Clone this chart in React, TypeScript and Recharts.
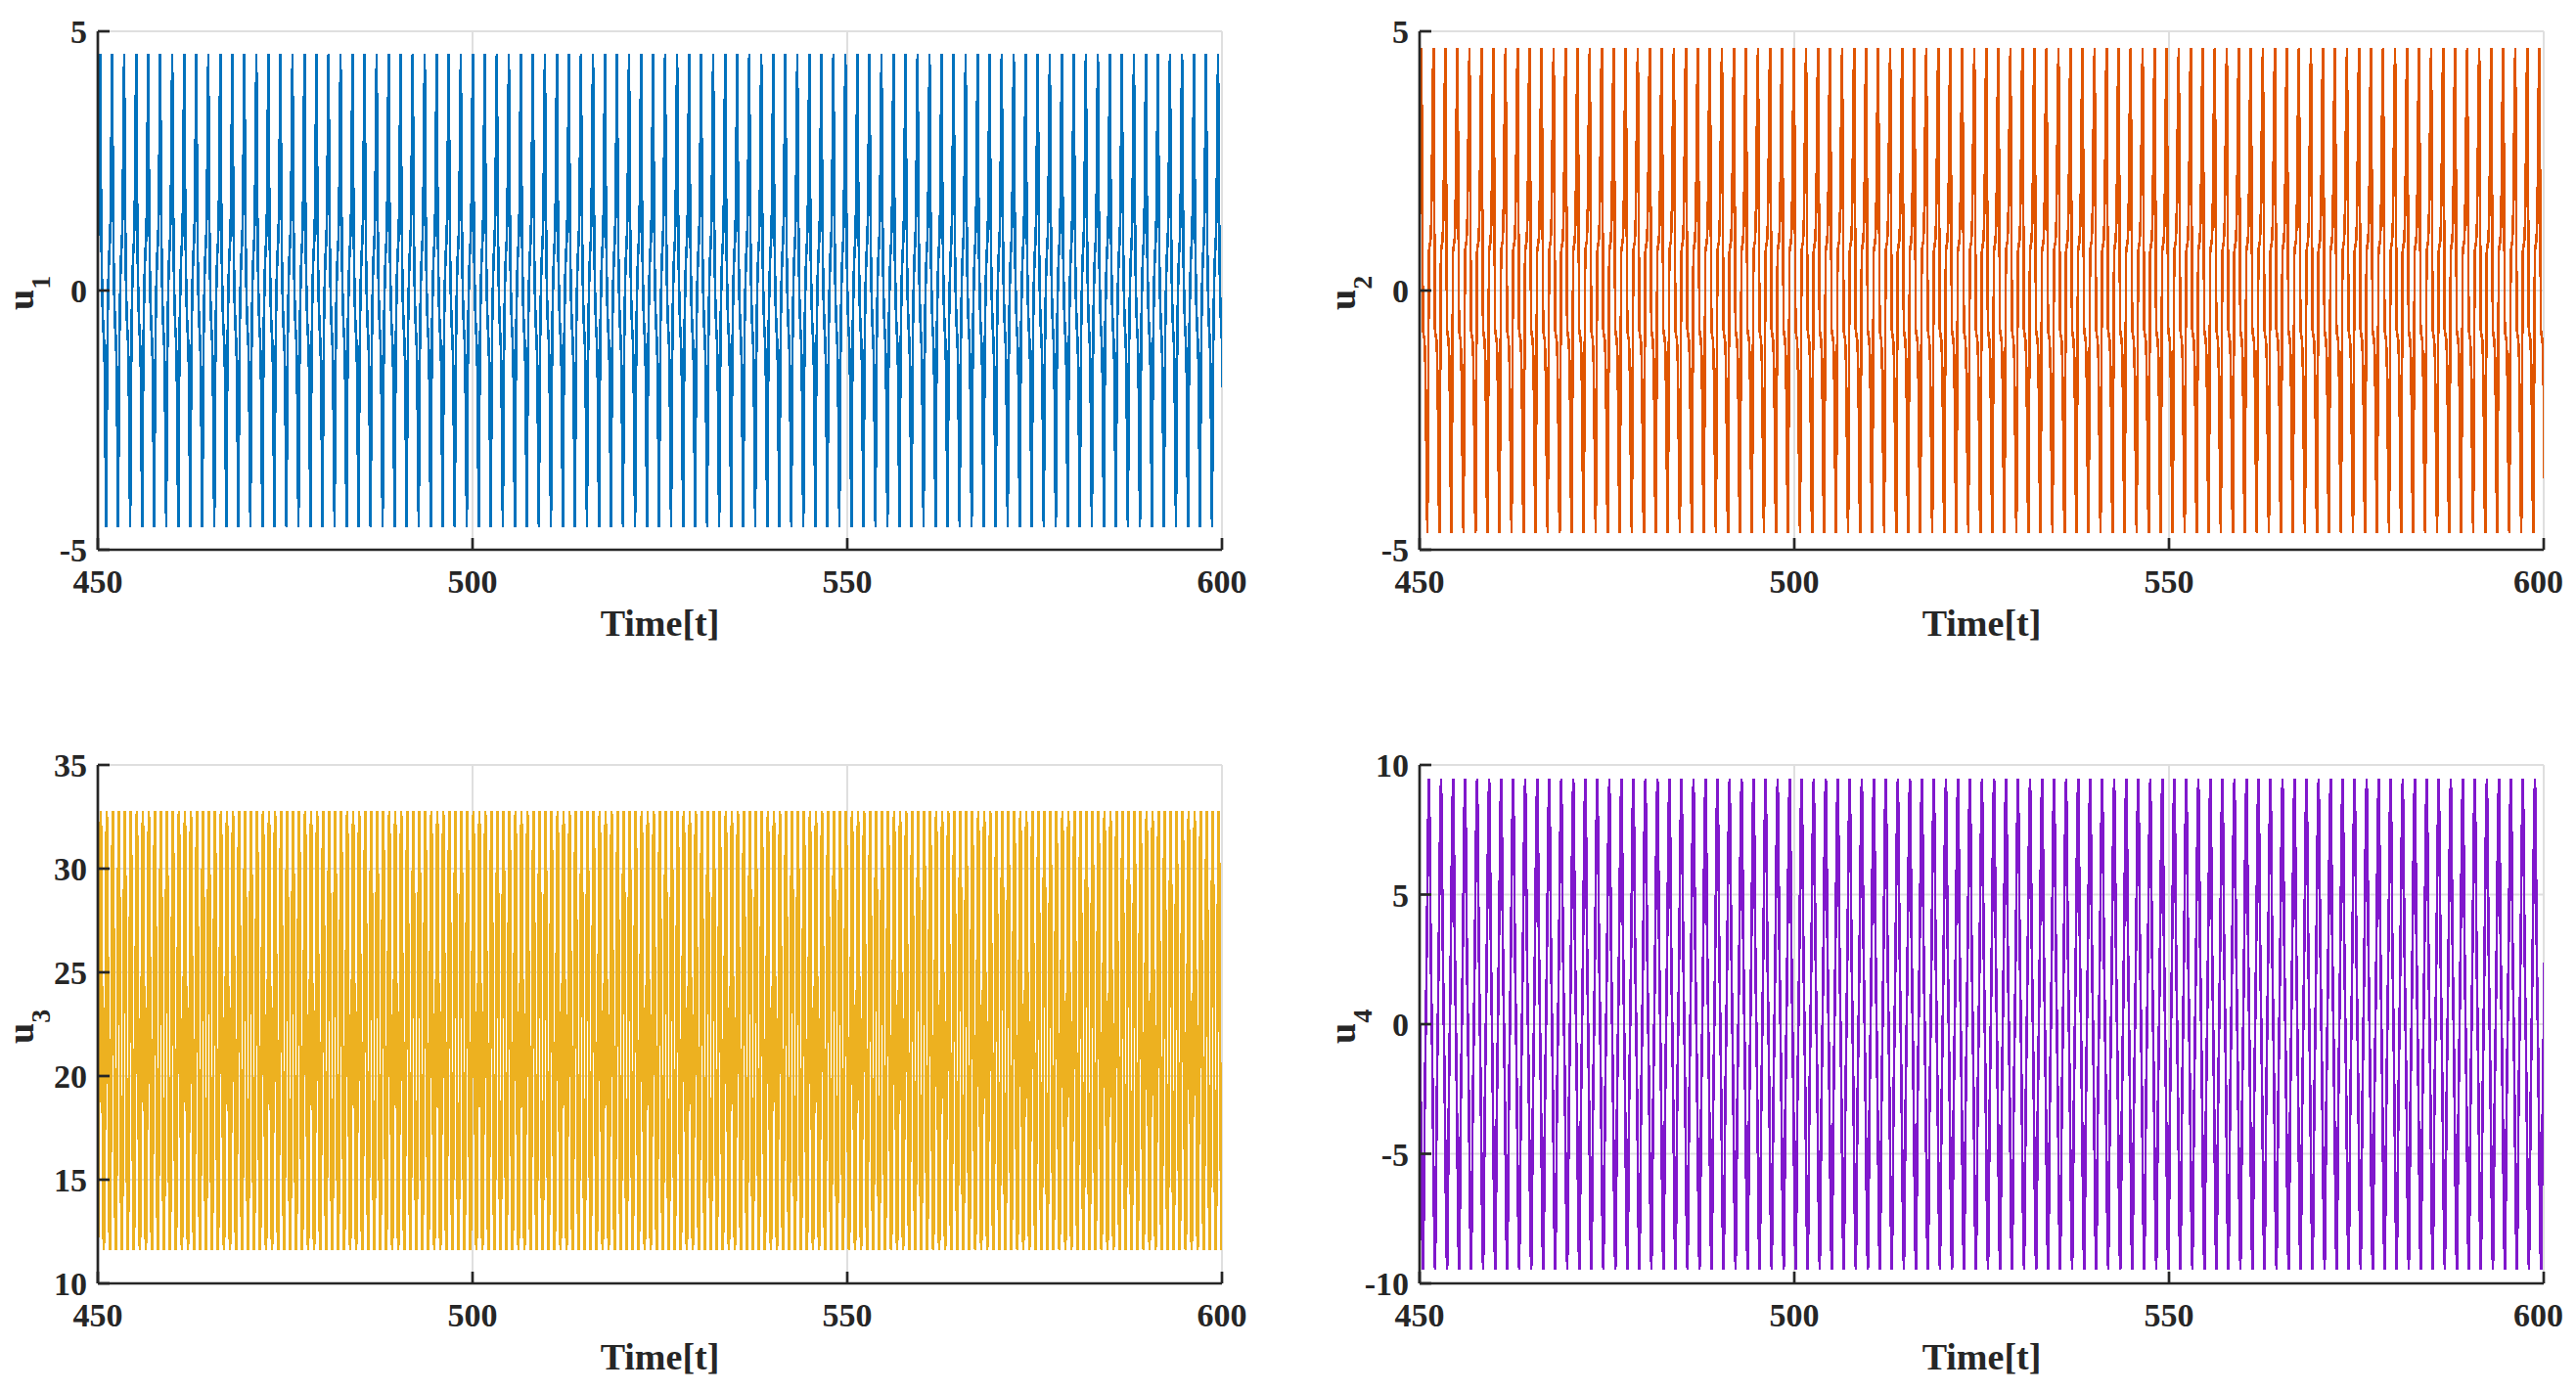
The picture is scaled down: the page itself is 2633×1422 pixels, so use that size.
import { CartesianGrid, Line, LineChart, XAxis, YAxis } from 'recharts';

const T_RANGE: [number, number] = [450, 600];
const TIME_TICKS = [450, 500, 550, 600];
const U1_TICKS = [-5, 0, 5];
const U2_TICKS = [-5, 0, 5];
const U3_TICKS = [10, 15, 20, 25, 30, 35];
const U4_TICKS = [-10, -5, 0, 5, 10];

// one period of each trace, 16 samples starting at a crest
const U1_CYCLE = [4.56, 2.1, 0.55, -0.25, -0.7, -0.95, -1.5, -3.1, -4.56, -2.1, -0.55, 0.25, 0.7, 0.95, 1.5, 3.1];
const U2_CYCLE = [4.67, 1.9, -0.75, -0.87, -0.95, -1.3, -2.3, -3.9, -4.68, -1.9, 0.75, 0.87, 0.95, 1.3, 2.3, 3.9];
const U3_CYCLE = [32.8, 31.6, 28.8, 25.0, 21.0, 17.3, 14.4, 12.4, 11.6, 12.4, 14.4, 17.3, 21.0, 25.0, 28.8, 31.6];
const U4_CYCLE = [9.48, 7.2, 3.6, 1.3, -0.8, -3.2, -5.9, -8.4, -9.47, -7.2, -3.6, -1.3, 0.8, 3.2, 5.9, 8.4];

// crest spacing and time of the first crest, measured on the picture
const U1_PERIOD = 1.604;
const U1_FIRST = 450.31;
const U2_PERIOD = 1.604;
const U2_FIRST = 450.25;
const U3_PERIOD = 0.802;
const U3_FIRST = 450.39;
const U4_PERIOD = 1.604;
const U4_FIRST = 451.27;

type Pt = { t: number; v: number };

function repeatCycle(cycle: number[], period: number, first: number): Pt[] {
  const pts: Pt[] = [];
  const n = cycle.length;
  const k0 = Math.floor((T_RANGE[0] - first) / period) - 1;
  const k1 = Math.ceil((T_RANGE[1] - first) / period) + 1;
  for (let k = k0; k <= k1; k++) {
    for (let j = 0; j < n; j++) {
      const t = first + (k + j / n) * period;
      if (t < T_RANGE[0] - period || t > T_RANGE[1] + period) continue;
      pts.push({ t, v: cycle[j] });
    }
  }
  return pts;
}

const u1Data = repeatCycle(U1_CYCLE, U1_PERIOD, U1_FIRST);
const u2Data = repeatCycle(U2_CYCLE, U2_PERIOD, U2_FIRST);
const u3Data = repeatCycle(U3_CYCLE, U3_PERIOD, U3_FIRST);
const u4Data = repeatCycle(U4_CYCLE, U4_PERIOD, U4_FIRST);

const INK = '#262626';
const FONT = '"Liberation Serif", "Times New Roman", serif';
const tickStyle = { fill: INK, fontSize: 34, fontFamily: FONT, fontWeight: 700 };
const boxLine = { stroke: INK, strokeWidth: 2.7 };

function timeLabel(props: any) {
  const vb = props.viewBox || {};
  return (
    <text
      x={vb.x + vb.width / 2}
      y={vb.y + 88}
      textAnchor="middle"
      fill={INK}
      fontSize={38}
      fontWeight={700}
      fontFamily={FONT}
    >
      Time[t]
    </text>
  );
}

function makeULabel(index: number) {
  return (props: any) => {
    const vb = props.viewBox || {};
    const bx = vb.x + vb.width - 66;
    const by = vb.y + vb.height / 2 + 20;
    return (
      <text
        x={bx}
        y={by}
        transform={`rotate(-90 ${bx} ${by})`}
        fill={INK}
        fontSize={38}
        fontWeight={700}
        fontFamily={FONT}
      >
        u
        <tspan dy={17} fontSize={28}>
          {index}
        </tspan>
      </text>
    );
  };
}

type PanelProps = {
  left: number;
  top: number;
  marginTop: number;
  marginRight: number;
  yAxisWidth: number;
  xAxisHeight: number;
  data: Pt[];
  color: string;
  yTicks: number[];
  index: number;
};

function Panel({ left, top, marginTop, marginRight, yAxisWidth, xAxisHeight, data, color, yTicks, index }: PanelProps) {
  const yDomain: [number, number] = [yTicks[0], yTicks[yTicks.length - 1]];
  return (
    <div style={{ position: 'absolute', left, top }}>
      <LineChart width={1300} height={700} margin={{ top: marginTop, right: marginRight, bottom: 0, left: 0 }}>
        <CartesianGrid stroke="#dfdfdf" strokeWidth={2} />
        <XAxis
          dataKey="t"
          type="number"
          domain={T_RANGE}
          ticks={TIME_TICKS}
          allowDataOverflow
          height={xAxisHeight}
          tickSize={-12}
          tickMargin={32}
          tick={tickStyle}
          axisLine={boxLine}
          tickLine={boxLine}
          label={timeLabel}
        />
        <XAxis
          xAxisId="top"
          orientation="top"
          dataKey="t"
          type="number"
          domain={T_RANGE}
          ticks={TIME_TICKS}
          allowDataOverflow
          height={0}
          tickSize={-12}
          tick={false}
          axisLine={boxLine}
          tickLine={boxLine}
        />
        <YAxis
          type="number"
          domain={yDomain}
          ticks={yTicks}
          allowDataOverflow
          width={yAxisWidth}
          tickSize={-12}
          tickMargin={23}
          tick={tickStyle}
          axisLine={boxLine}
          tickLine={boxLine}
          label={makeULabel(index)}
        />
        <YAxis
          yAxisId="right"
          orientation="right"
          type="number"
          domain={yDomain}
          ticks={yTicks}
          allowDataOverflow
          width={0}
          tickSize={-12}
          tick={false}
          axisLine={boxLine}
          tickLine={boxLine}
        />
        <Line
          data={data}
          dataKey="v"
          type="linear"
          stroke={color}
          strokeWidth={2.6}
          dot={false}
          activeDot={false}
          isAnimationActive={false}
        />
      </LineChart>
    </div>
  );
}

export default function App() {
  return (
    <div style={{ position: 'absolute', left: 0, top: 0, width: 2633, height: 1422, background: '#ffffff' }}>
      <style>{'.recharts-line-curve{shape-rendering:crispEdges}'}</style>
      <Panel left={0} top={0} marginTop={32} marginRight={51} yAxisWidth={100} xAxisHeight={138} data={u1Data} color="#0072BD" yTicks={U1_TICKS} index={1} />
      <Panel left={1320} top={0} marginTop={32} marginRight={20} yAxisWidth={131} xAxisHeight={138} data={u2Data} color="#E05500" yTicks={U2_TICKS} index={2} />
      <Panel left={0} top={710} marginTop={72} marginRight={51} yAxisWidth={100} xAxisHeight={98} data={u3Data} color="#EDB120" yTicks={U3_TICKS} index={3} />
      <Panel left={1320} top={710} marginTop={72} marginRight={20} yAxisWidth={131} xAxisHeight={98} data={u4Data} color="#8018CC" yTicks={U4_TICKS} index={4} />
    </div>
  );
}
